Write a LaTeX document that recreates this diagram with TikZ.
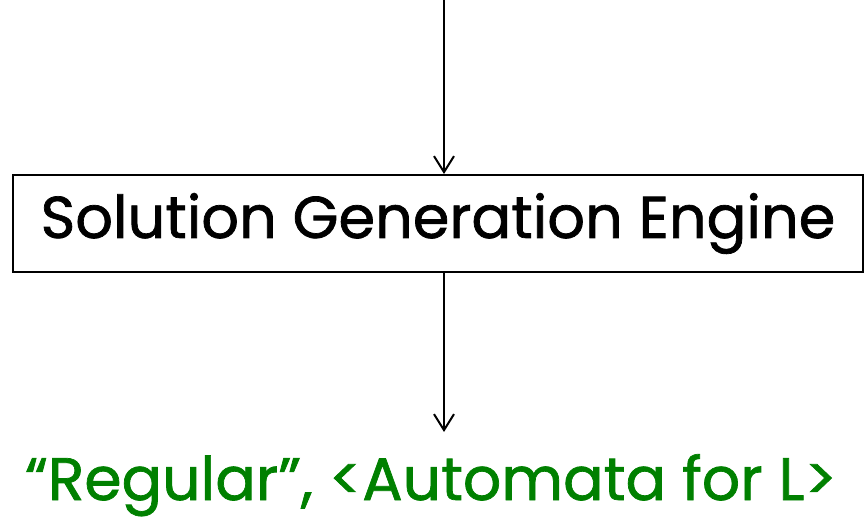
\documentclass[tikz,border=0pt]{standalone}
\usepackage{fontspec}
\setmainfont{Poppins}
\newfontfamily\handfont{Poppins}[FakeBold=1.2, Ligatures=TeX]
\usepackage{tikz}
\usetikzlibrary{arrows.meta,positioning}
\definecolor{outgreen}{HTML}{008000}

\begin{document}
\begin{tikzpicture}[x=1pt, y=1pt,
  engbox/.style={draw, line width=2pt, minimum width=850pt, minimum height=97pt, inner sep=0pt, font=\handfont\fontsize{59}{70}\selectfont},
  outtext/.style={text=outgreen, inner sep=0pt, anchor=base, font=\handfont\fontsize{60}{72}\selectfont},
  arr/.style={-{Straight Barb[length=16pt, width=20pt]}, line width=2pt}
]
  \useasboundingbox (0,0) rectangle (864,520);

  \coordinate (in) at (444,520);
  \node[engbox] (engine) at (438,296.5) {Solution Generation Engine};
  \coordinate (outend) at (444,88);
  \node[outtext] (result) at (431,20) {“Regular”, <Automata for L>};

  \draw[arr] (in) -- (in |- engine.north);
  \draw[arr] (engine.south -| in) -- (outend);
\end{tikzpicture}
\end{document}
